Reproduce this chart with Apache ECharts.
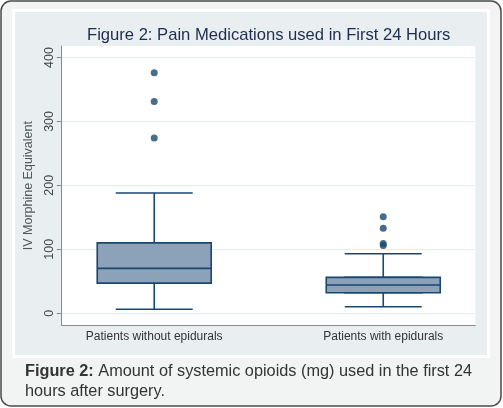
<!DOCTYPE html>
<html>
<head>
<meta charset="utf-8">
<script src="https://cdn.jsdelivr.net/npm/echarts@6/dist/echarts.min.js"></script>
<style>
html,body{margin:0;padding:0;background:#ffffff;}
#c{width:503px;height:408px;}
</style>
</head>
<body>
<div id="c"></div>
<script>
const categories = ['Patients without epidurals', 'Patients with epidurals'];
// [min whisker, Q1, median, Q3, max whisker]
const boxStats = [
  [6, 47, 70, 110, 188],
  [10, 32, 44, 56, 93]
];
// outliers: [category index, value]
const outliers = [
  [0, 376], [0, 331], [0, 274],
  [1, 151], [1, 133], [1, 109], [1, 106]
];
const yTicks = [0, 100, 200, 300, 400];

const navy = '#1a476f';
const whiskerData = boxStats.map((s, i) => [i, s[0], s[1], s[2], s[3], s[4]]);
const bodyData = boxStats.map((s, i) => [i, s[1], s[1], s[2], s[3], s[3]]);

const chart = echarts.init(document.getElementById('c'), null, {renderer: 'canvas'});
const xBase = {
  type: 'value', min: -0.404, max: 1.402,
  splitLine: {show: false}
};
chart.setOption({
  animation: false,
  backgroundColor: '#ffffff',
  title: {
    text: 'Figure 2: Pain Medications used in First 24 Hours',
    left: 82, top: 22,
    textStyle: {fontFamily: 'Liberation Sans', fontSize: 16.6, fontWeight: 'normal', color: '#1e2d4f'}
  },
  graphic: [
    {type: 'rect', z: -100, silent: true, shape: {x: 1, y: 1, width: 500, height: 405, r: 10},
     style: {fill: '#f2f3f3', stroke: '#4a4a4a', lineWidth: 1.5}},
    {type: 'rect', z: -99, silent: true, shape: {x: 12, y: 9, width: 478, height: 349},
     style: {fill: '#ffffff'}},
    {type: 'rect', z: -98, silent: true, shape: {x: 15, y: 12, width: 472, height: 343},
     style: {fill: '#e9eff1'}},
    {type: 'text', left: 25, top: 362, silent: true,
     style: {
       text: '{b|Figure 2:} Amount of systemic opioids (mg) used in the first 24\nhours after surgery.',
       fontFamily: 'Liberation Sans', fontSize: 16.3, lineHeight: 20, fill: '#333333',
       rich: {b: {fontFamily: 'Liberation Sans', fontSize: 16.3, fontWeight: 'bold', fill: '#333333'}}
     }}
  ],
  grid: {
    left: 61.7, right: 27.7, top: 46, bottom: 82.7,
    show: true, backgroundColor: '#ffffff', borderWidth: 0
  },
  xAxis: [
    Object.assign({}, xBase, {
      axisLine: {show: true, onZero: false, lineStyle: {color: '#8a8a8a', width: 1}},
      axisTick: {show: false},
      axisLabel: {
        customValues: [0, 1],
        formatter: v => categories[Math.round(v)],
        fontFamily: 'Liberation Sans', fontSize: 12, color: '#333333', margin: 5
      }
    }),
    Object.assign({}, xBase, {show: false})
  ],
  yAxis: {
    type: 'value', min: -19, max: 418,
    name: 'IV Morphine Equivalent', nameLocation: 'middle', nameRotate: 90, nameGap: 24,
    nameTextStyle: {fontFamily: 'Liberation Sans', fontSize: 12.5, color: '#555555'},
    axisLine: {show: true, onZero: false, lineStyle: {color: '#8a8a8a', width: 1}},
    axisTick: {show: true, length: 5, customValues: yTicks, lineStyle: {color: '#8a8a8a'}},
    axisLabel: {
      customValues: yTicks, rotate: 90, margin: 6,
      fontFamily: 'Liberation Sans', fontSize: 12.5, color: '#444444'
    },
    splitLine: {show: true, lineStyle: {color: '#e6edef', width: 1.2}}
  },
  series: [
    {
      type: 'boxplot', xAxisIndex: 0, data: whiskerData,
      boxWidth: [77, 77], z: 2,
      itemStyle: {color: '#8ca2b8', borderColor: navy, borderWidth: 1.6}
    },
    {
      type: 'boxplot', xAxisIndex: 1, data: bodyData,
      boxWidth: [114, 114], z: 3,
      itemStyle: {color: '#8ca2b8', borderColor: navy, borderWidth: 1.6}
    },
    {
      type: 'scatter', xAxisIndex: 0, data: outliers, symbolSize: 7, z: 4,
      itemStyle: {color: navy}
    }
  ]
});
</script>
</body>
</html>
